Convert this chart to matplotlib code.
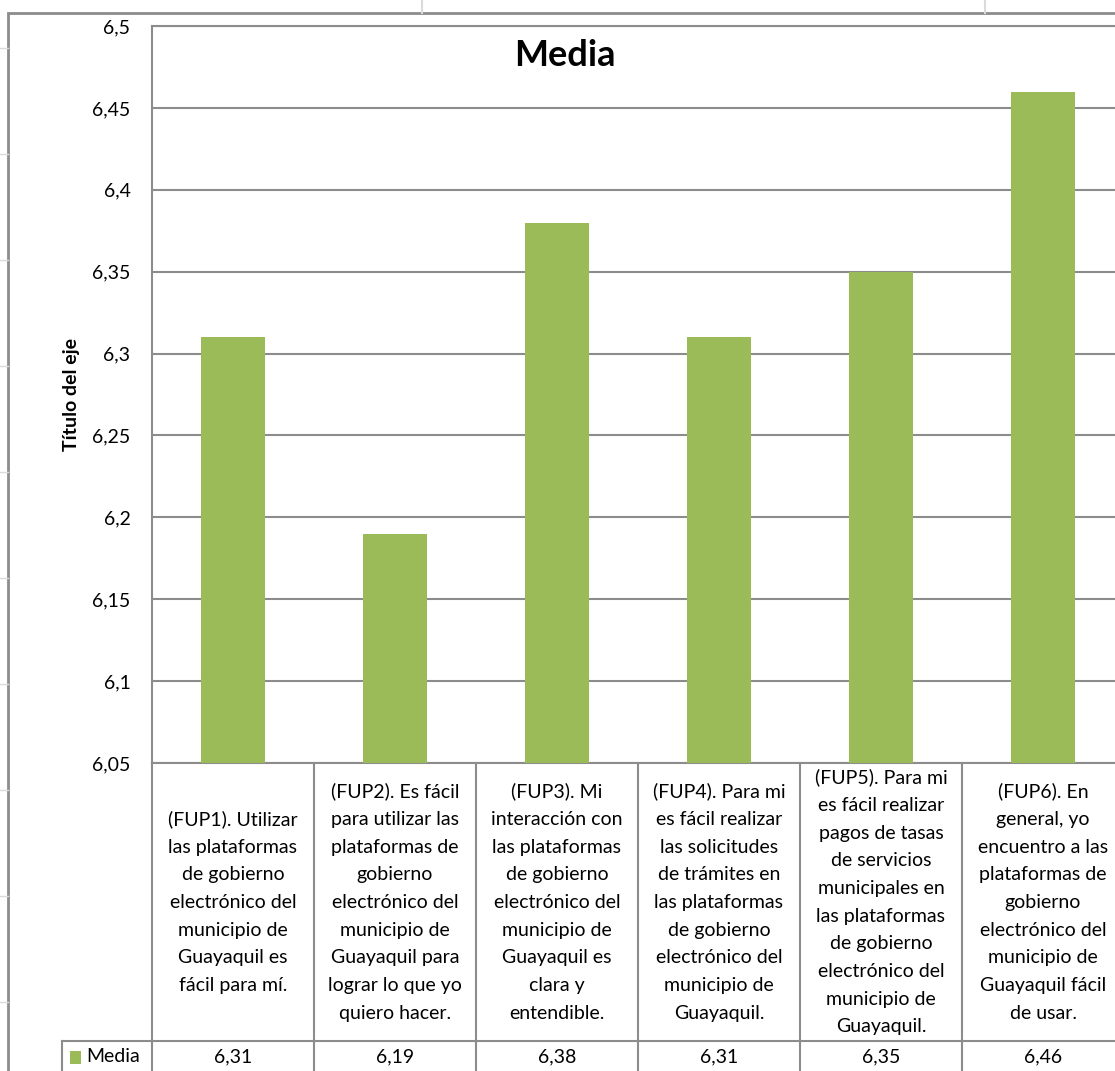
import matplotlib.pyplot as plt
from matplotlib.patches import Rectangle
import matplotlib.transforms as mtransforms

plt.rcParams['font.family'] = ['Lato', 'DejaVu Sans']

# datos
categorias = [
    "(FUP1). Utilizar\nlas plataformas\nde gobierno\nelectrónico del\nmunicipio de\nGuayaquil es\nfácil para mí.",
    "(FUP2). Es fácil\npara utilizar las\nplataformas de\ngobierno\nelectrónico del\nmunicipio de\nGuayaquil para\nlograr lo que yo\nquiero hacer.",
    "(FUP3). Mi\ninteracción con\nlas plataformas\nde gobierno\nelectrónico del\nmunicipio de\nGuayaquil es\nclara y\nentendible.",
    "(FUP4). Para mi\nes fácil realizar\nlas solicitudes\nde trámites en\nlas plataformas\nde gobierno\nelectrónico del\nmunicipio de\nGuayaquil.",
    "(FUP5). Para mi\nes fácil realizar\npagos de tasas\nde servicios\nmunicipales en\nlas plataformas\nde gobierno\nelectrónico del\nmunicipio de\nGuayaquil.",
    "(FUP6). En\ngeneral, yo\nencuentro a las\nplataformas de\ngobierno\nelectrónico del\nmunicipio de\nGuayaquil fácil\nde usar.",
]
media = [6.31, 6.19, 6.38, 6.31, 6.35, 6.46]
serie = "Media"
yticks = [6.05, 6.1, 6.15, 6.2, 6.25, 6.3, 6.35, 6.4, 6.45, 6.5]

W, H = 1115, 1071
fig = plt.figure(figsize=(W / 100, H / 100), dpi=100)
fig.patch.set_facecolor('white')

def fx(px):
    return px / W

def fy(py):
    return 1 - py / H

verde = '#9BBB59'
gris = '#8C8C8C'
gris_claro = '#DADADA'
fs = 14

# lineas de celdas de la hoja alrededor del grafico
for yy in [48, 154, 260, 366, 472, 578, 684, 790, 896, 1002]:
    fig.add_artist(plt.Line2D([0, fx(8)], [fy(yy), fy(yy)], color=gris_claro, lw=1))
for xx in [422, 985]:
    fig.add_artist(plt.Line2D([fx(xx), fx(xx)], [fy(0), fy(13)], color=gris_claro, lw=1.5))

# borde del area del grafico
fig.add_artist(Rectangle((fx(8), fy(1080)), fx(1200), fy(13) - fy(1080),
                         fill=False, edgecolor=gris, lw=2, transform=fig.transFigure))

x0, x1 = 152, 1124
ytop, ybot = 26, 763
ax = fig.add_axes([fx(x0), fy(ybot), fx(x1 - x0), fy(ytop) - fy(ybot)])
pos = list(range(len(media)))
ax.bar(pos, media, width=0.4, color=verde, zorder=3)
ax.set_xlim(-0.5, len(media) - 0.5)
ax.set_ylim(6.05, 6.5)
ax.set_yticks(yticks)
ax.set_yticklabels([f"{v:g}".replace('.', ',') for v in yticks], fontsize=fs)
ax.tick_params(axis='y', length=0, pad=15.5)
ax.set_xticks([])
ax.yaxis.grid(True, color=gris, lw=1.5, zorder=0)
for s in ax.spines.values():
    s.set_color(gris)
    s.set_linewidth(1.5)
ax.set_ylabel("Título del eje", fontsize=14, fontweight='bold', labelpad=9)

fig.text(fx(565), fy(55), "Media", ha='center', va='center', fontsize=26, fontweight='bold')

# tabla de datos debajo del eje
tr = mtransforms.blended_transform_factory(ax.transData, fig.transFigure)
y_fila = 1041
for i in range(len(media) + 1):
    xb = i - 0.5
    ax.add_line(plt.Line2D([xb, xb], [fy(ybot), fy(1090)], color=gris, lw=1.5,
                           transform=tr, clip_on=False))
ax.add_line(plt.Line2D([-0.5 - 90 / 162, len(media)], [fy(y_fila), fy(y_fila)],
                       color=gris, lw=1.5, transform=tr, clip_on=False))
ax.add_line(plt.Line2D([-0.5 - 90 / 162, -0.5 - 90 / 162], [fy(y_fila), fy(1090)],
                       color=gris, lw=1.5, transform=tr, clip_on=False))

for i, (c, v) in enumerate(zip(categorias, media)):
    ax.text(i, fy((ybot + y_fila) / 2), c, transform=tr, ha='center', va='center',
            fontsize=fs, linespacing=1.76, clip_on=False)
    ax.text(i, fy(1057), f"{v:.2f}".replace('.', ','), transform=tr, ha='center',
            va='center', fontsize=fs, clip_on=False)

fig.add_artist(Rectangle((fx(70), fy(1064)), fx(11), fy(1051) - fy(1064),
                         facecolor=verde, edgecolor='none', transform=fig.transFigure))
fig.text(fx(86), fy(1057), serie, ha='left', va='center', fontsize=fs)

fig.savefig('out.png', dpi=100, facecolor='white')
